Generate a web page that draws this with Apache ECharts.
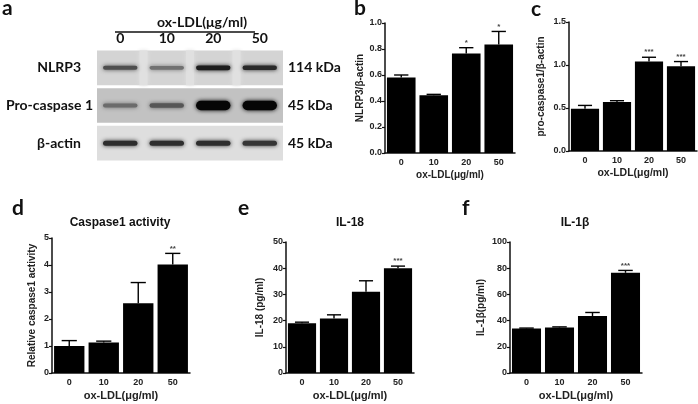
<!DOCTYPE html>
<html><head><meta charset="utf-8">
<script src="https://cdn.jsdelivr.net/npm/echarts@6/dist/echarts.min.js"></script>
<style>html,body{margin:0;padding:0;background:#fff}#c{width:698px;height:404px}</style>
</head><body><div id="c"></div>
<script>
// ---- data ----
const doses = ['0', '10', '20', '50'];
const blotRows = ['NLRP3', 'Pro-caspase 1', 'β-actin'];
const blotSizes = ['114 kDa', '45 kDa', '45 kDa'];
const nlrp3Band = [0.62, 0.45, 0.86, 0.8];
const procaspBand = [0.48, 0.58, 0.97, 0.97];
const actinBand = [0.78, 0.78, 0.78, 0.74];

const nlrp3Mean = [0.58, 0.445, 0.765, 0.835];
const nlrp3Sem = [0.02, 0.006, 0.045, 0.1];
const nlrp3Stars = ['', '', '*', '*'];
const nlrp3Ticks = [0, 0.2, 0.4, 0.6, 0.8, 1.0];

const procMean = [0.49, 0.57, 1.04, 0.985];
const procSem = [0.04, 0.015, 0.05, 0.055];
const procStars = ['', '', '***', '***'];
const procTicks = [0, 0.5, 1.0, 1.5];

const casMean = [1.0, 1.13, 2.58, 4.02];
const casSem = [0.2, 0.05, 0.77, 0.41];
const casStars = ['', '', '', '**'];
const casTicks = [0, 1, 2, 3, 4, 5];

const il18Mean = [19.0, 20.8, 31.0, 40.0];
const il18Sem = [0.4, 1.4, 4.2, 0.8];
const il18Stars = ['', '', '', '***'];
const il18Ticks = [0, 10, 20, 30, 40, 50];

const il1bMean = [34.0, 34.8, 43.5, 76.5];
const il1bSem = [0.3, 0.4, 2.7, 1.8];
const il1bStars = ['', '', '', '***'];
const il1bTicks = [0, 20, 40, 60, 80, 100];

// ---- chart ----
const F = 'Liberation Sans, Arial, sans-serif';
const FA = 'Lato, Liberation Sans, sans-serif';
const chart = echarts.init(document.getElementById('c'), null, {renderer: 'canvas'});

const grids = [], xAxes = [], yAxes = [], series = [];

// blot grid (index 0)
grids.push({left: 97, top: 49, width: 186, height: 113});
xAxes.push({type: 'category', gridIndex: 0, position: 'top', data: doses,
  axisLine: {show: false}, axisTick: {show: false},
  axisLabel: {margin: 4, fontFamily: FA, fontWeight: 'bold', fontSize: 14, color: '#111'}});
yAxes.push({type: 'category', gridIndex: 0, inverse: true, data: blotRows,
  axisLine: {show: false}, axisTick: {show: false},
  axisLabel: {margin: 4, fontFamily: FA, fontWeight: 'bold', fontSize: 14, color: '#111',
    formatter: v => v === 'Pro-caspase 1' ? v : '{n|' + v + '}',
    rich: {n: {fontFamily: FA, fontWeight: 'bold', fontSize: 14, color: '#111', padding: [0, 12, 0, 0]}}}});
yAxes.push({type: 'category', gridIndex: 0, inverse: true, position: 'right', data: blotSizes,
  axisLine: {show: false}, axisTick: {show: false},
  axisLabel: {margin: 5, fontFamily: FA, fontWeight: 'bold', fontSize: 14, color: '#111'}});

const rowBg = ['#d4d4d4', '#c2c2c2', '#dedede'];
series.push({type: 'custom', xAxisIndex: 0, yAxisIndex: 0, silent: true,
  data: blotRows.map((r, i) => [0, i]),
  renderItem(params, api) {
    const cs = params.coordSys;
    const r = api.value(1);
    const c = api.coord([0, r]);
    const h = api.size([0, 1])[1];
    const lw = api.size([1, 0])[0];
    const children = [{type: 'rect', shape: {x: cs.x, y: c[1] - h / 2 + 1.5, width: cs.width, height: h - 3},
      style: {fill: rowBg[r]}}];
    if (r === 0) {
      for (let k = 1; k < 4; k++) {
        children.push({type: 'rect', shape: {x: cs.x + k * lw - 4, y: c[1] - h / 2 + 1.5, width: 8, height: h - 3},
          style: {fill: '#e0e0e0', shadowBlur: 4, shadowColor: '#e0e0e0'}});
      }
    }
    return {type: 'group', children};
  }});
const bandData = [];
[nlrp3Band, procaspBand, actinBand].forEach((arr, r) => arr.forEach((v, l) => bandData.push([l, r, v])));
series.push({type: 'custom', xAxisIndex: 0, yAxisIndex: 0, silent: true, data: bandData,
  renderItem(params, api) {
    const l = api.value(0), r = api.value(1), I = api.value(2);
    const c = api.coord([l, r]);
    const w = api.size([1, 0])[0] * 0.74;
    let h = r === 0 ? 2.5 + 2.5 * I : (r === 1 ? 2 + 8 * I * I : 5);
    const g = Math.round(205 * (1 - I));
    const col = 'rgb(' + g + ',' + g + ',' + g + ')';
    return {type: 'rect', shape: {x: c[0] - w / 2, y: c[1] - h / 2, width: w, height: h, r: h / 2},
      style: {fill: col, shadowBlur: 4, shadowColor: col}};
  }});

function panel(gi, box, mean, sem, stars, ticks, yName, yGap, xFont, yFont) {
  grids.push(box);
  const max = ticks[ticks.length - 1], step = ticks[1] - ticks[0];
  const dec = step < 1 ? 1 : 0;
  xAxes.push({type: 'category', gridIndex: gi, data: doses,
    axisLine: {lineStyle: {color: '#111', width: 1.5}}, axisTick: {show: false},
    axisLabel: {margin: 5, fontFamily: F, fontWeight: 'bold', fontSize: 9, color: '#222'},
    name: 'ox-LDL(μg/ml)', nameLocation: 'middle', nameGap: 17,
    nameTextStyle: {fontFamily: F, fontWeight: 'bold', fontSize: xFont, color: '#222'}});
  yAxes.push({type: 'value', gridIndex: gi, min: 0, max: max, interval: step,
    axisLine: {show: true, lineStyle: {color: '#111', width: 1.5}},
    axisTick: {show: true, length: 3, lineStyle: {color: '#111', width: 1.2}},
    splitLine: {show: false},
    axisLabel: {margin: 3, fontFamily: F, fontWeight: 'bold', fontSize: 9, color: '#222',
      formatter: v => v.toFixed(dec)},
    name: yName, nameLocation: 'middle', nameGap: yGap,
    nameTextStyle: {fontFamily: F, fontWeight: 'bold', fontSize: yFont, color: '#222'}});
  const yi = yAxes.length - 1;
  series.push({type: 'bar', xAxisIndex: gi, yAxisIndex: yi, data: mean,
    barCategoryGap: '12%', itemStyle: {color: '#000'}, silent: true, z: 2});
  series.push({type: 'custom', xAxisIndex: gi, yAxisIndex: yi, silent: true, z: 3,
    data: mean.map((m, i) => [i, m, sem[i]]),
    renderItem(params, api) {
      const i = api.value(0), m = api.value(1), s = api.value(2);
      const p0 = api.coord([i, m]), p1 = api.coord([i, m + s]);
      const hw = api.size([1, 0])[0] * 0.22;
      const st = {stroke: '#000', lineWidth: 1.4};
      const children = [
        {type: 'line', shape: {x1: p0[0], y1: p0[1], x2: p1[0], y2: p1[1]}, style: st},
        {type: 'line', shape: {x1: p1[0] - hw, y1: p1[1], x2: p1[0] + hw, y2: p1[1]}, style: st}
      ];
      const star = stars[params.dataIndex];
      if (star) children.push({type: 'text', style: {text: star, x: p1[0], y: p1[1] - 1,
        textAlign: 'center', textVerticalAlign: 'bottom', font: 'bold 8px ' + F, fill: '#444'}});
      return {type: 'group', children};
    }});
}

panel(1, {left: 385, top: 23, width: 130, height: 130}, nlrp3Mean, nlrp3Sem, nlrp3Stars, nlrp3Ticks, 'NLRP3/β-actin', 20, 10, 10);
panel(2, {left: 569, top: 22, width: 128, height: 129}, procMean, procSem, procStars, procTicks, 'pro-caspase1/β-actin', 23, 10.5, 10);
panel(3, {left: 52, top: 238, width: 138, height: 135}, casMean, casSem, casStars, casTicks, 'Relative caspase1 activity', 15, 11, 10);
panel(4, {left: 286, top: 242, width: 128, height: 131}, il18Mean, il18Sem, il18Stars, il18Ticks, 'IL-18 (pg/ml)', 21, 11, 10);
panel(5, {left: 510, top: 242, width: 132, height: 131}, il1bMean, il1bSem, il1bStars, il1bTicks, 'IL-1β(pg/ml)', 24, 11, 10);

const letterStyle = {fontFamily: FA, fontWeight: 'bold', fontSize: 21, color: '#111'};
const titleStyle = {fontFamily: F, fontWeight: 'bold', fontSize: 12, color: '#111'};
const option = {
  animation: false,
  backgroundColor: '#fff',
  title: [
    {text: 'a', left: 2, top: -2, textStyle: letterStyle, padding: 0},
    {text: 'b', left: 354, top: -2, textStyle: letterStyle, padding: 0},
    {text: 'c', left: 531, top: -1, textStyle: letterStyle, padding: 0},
    {text: 'd', left: 12, top: 198, textStyle: letterStyle, padding: 0},
    {text: 'e', left: 238, top: 198, textStyle: letterStyle, padding: 0},
    {text: 'f', left: 462, top: 198, textStyle: letterStyle, padding: 0},
    {text: 'Caspase1 activity', left: 120, top: 217, textAlign: 'center', textStyle: titleStyle, padding: 0},
    {text: 'IL-18', left: 350, top: 217, textAlign: 'center', textStyle: titleStyle, padding: 0},
    {text: 'IL-1β', left: 575, top: 217, textAlign: 'center', textStyle: titleStyle, padding: 0}
  ],
  graphic: [
    {type: 'text', left: 157, top: 15, style: {text: 'ox-LDL(μg/ml)', font: 'bold 14px ' + FA, fill: '#111'}},
    {type: 'line', shape: {x1: 115, y1: 32, x2: 255, y2: 32}, style: {stroke: '#111', lineWidth: 1.3}}
  ],
  grid: grids, xAxis: xAxes, yAxis: yAxes, series: series
};
chart.setOption(option);
</script></body></html>
